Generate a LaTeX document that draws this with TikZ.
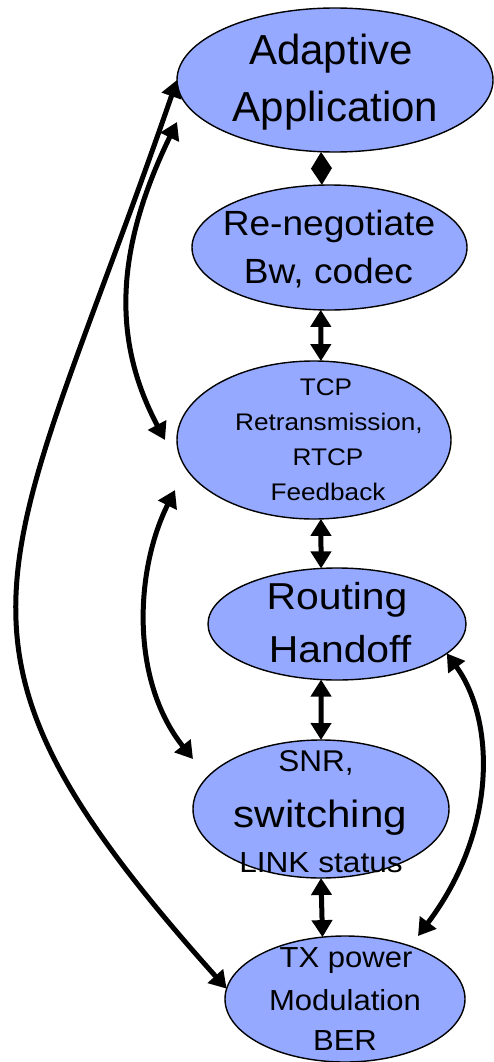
\documentclass[tikz,border=0pt]{standalone}
\usepackage{fontspec}
\setmainfont{Liberation Sans}
\usepackage{graphicx}
\usetikzlibrary{shapes.geometric,arrows.meta,calc}
\definecolor{ellfill}{RGB}{148,169,255}
\newcommand\mytext[3]{\scalebox{#2}[1]{\fontsize{#1pt}{#1pt}\selectfont #3}}
\tikzset{
  ell/.style={ellipse,draw=black,line width=1.4pt,fill=ellfill,inner sep=0pt,outer sep=0pt},
  lbl/.style={anchor=base,inner sep=0pt,outer sep=0pt,text=black},
  dbl/.style={line width=5pt,{Triangle[length=17pt,width=20pt]}-{Triangle[length=17pt,width=20pt]}}
}
\begin{document}
\begin{tikzpicture}[x=1pt,y=-1pt]
\useasboundingbox (0,0) rectangle (493,1062);
% ellipses
\node[ell,minimum width=316pt,minimum height=144pt] (a) at (335,80) {};
\node[ell,minimum width=275pt,minimum height=125pt] (b) at (329.5,247.5) {};
\node[ell,minimum width=274pt,minimum height=158pt] (c) at (314,440) {};
\node[ell,minimum width=258pt,minimum height=112pt] (d) at (337,624) {};
\node[ell,minimum width=256pt,minimum height=138pt] (e) at (321,809) {};
\node[ell,minimum width=240pt,minimum height=126pt] (f) at (345,999) {};
% texts
\node[lbl] (t1a) at (331,65) {\mytext{42}{1.0}{Adaptive}};
\node[lbl] (t1b) at (335.5,121.7) {\mytext{42}{1.0}{Application}};
\node[lbl] (t2a) at (329,235) {\mytext{35}{1.06}{Re-negotiate}};
\node[lbl] (t2b) at (328.5,283) {\mytext{35}{1.06}{Bw, codec}};
\node[lbl] (t3a) at (326,395) {\mytext{24}{1.09}{TCP}};
\node[lbl] (t3b) at (329,430.5) {\mytext{24}{1.09}{Retransmission,}};
\node[lbl] (t3c) at (328,465) {\mytext{24}{1.09}{RTCP}};
\node[lbl] (t3d) at (328,500) {\mytext{24}{1.09}{Feedback}};
\node[lbl] (t4a) at (337,609) {\mytext{37.5}{1.09}{Routing}};
\node[lbl] (t4b) at (340,662) {\mytext{37.5}{1.09}{Handoff}};
\node[lbl] (t5a) at (316,771.7) {\mytext{30}{1.05}{SNR,}};
\node[lbl] (t5b) at (320.5,827.3) {\mytext{38}{1.11}{switching}};
\node[lbl] (t5c) at (321,872.7) {\mytext{29}{1.09}{LINK status}};
\node[lbl] (t6a) at (346,967.7) {\mytext{29}{1.07}{TX power}};
\node[lbl] (t6b) at (345,1010.7) {\mytext{29}{1.07}{Modulation}};
\node[lbl] (t6c) at (345,1050.7) {\mytext{29}{1.07}{BER}};
% vertical connectors
\draw[dbl] (a.259) -- (b.97.5);
\draw[dbl] (b.262.5) -- (c.85);
\draw[dbl] (c.275) -- (d.106);
\draw[dbl] (d.254) -- (e.90);
\draw[dbl] (e.270) -- (f.110.9);
% curved connectors
\draw[dbl] (a.west) .. controls (4,581) and (-90,635) .. (f.175);
\draw[dbl] ($(a.west)+(0,42)$) .. controls (115,250) and (112,340) .. ($(c.west)+(-12,0)$);
\draw[dbl] ($(c.west)+(-2,50)$) .. controls (135,570) and (130,680) .. ($(e.west)+(0,-50)$);
\draw[dbl] (d.-15) .. controls (495,720) and (498,830) .. ($(f.north)+(73,0)$);
\end{tikzpicture}
\end{document}
